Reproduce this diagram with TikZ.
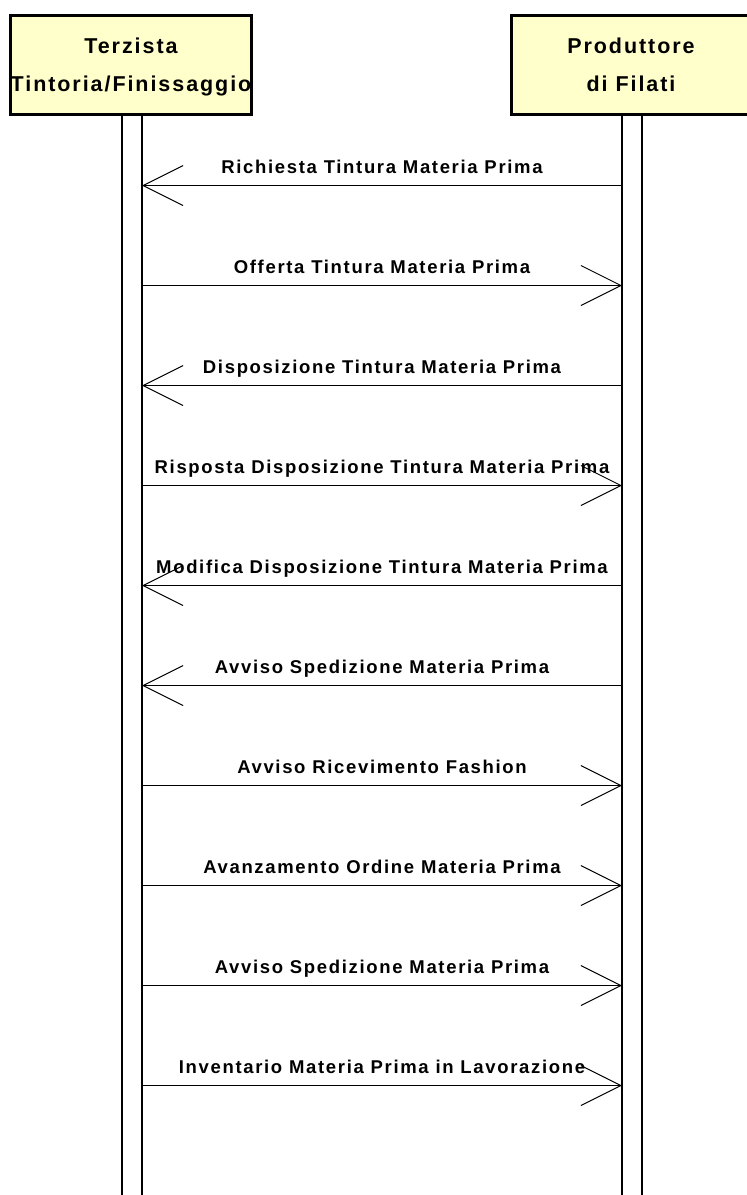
\documentclass[tikz,border=0pt]{standalone}
\usepackage{fontspec}
\setmainfont{Liberation Sans}[LetterSpace=9]
\usetikzlibrary{arrows.meta}
\definecolor{actorfill}{RGB}{255,255,204}

\begin{document}
\begin{tikzpicture}[line cap=butt,line join=miter,x=1pt,y=-1pt,
  >={Straight Barb[length=40pt,width=40pt,line width=1pt]},
  actor/.style={draw,line width=3pt,fill=actorfill,minimum width=239pt,minimum height=99pt,
    inner sep=0pt,text depth=0pt,align=center,font=\fontsize{21.5}{38}\selectfont\bfseries},
  life/.style={line width=1.5pt},
  msg/.style={line width=1.5pt,->},
  msgtext/.style={midway,anchor=base,yshift=12pt,inner sep=0pt,font=\fontsize{18.5}{22}\selectfont\bfseries}]
\useasboundingbox (0,0) rectangle (747,1195);
% lifelines
\coordinate (terzend) at (131,1200);
\coordinate (prodend) at (631,1200);
\draw [life] ([xshift=-9pt]131,114) -- ([xshift=-9pt]terzend);
\draw [life] ([xshift=11pt]131,114) -- ([xshift=11pt]terzend);
\draw [life] ([xshift=-9pt]631,114) -- ([xshift=-9pt]prodend);
\draw [life] ([xshift=11pt]631,114) -- ([xshift=11pt]prodend);
% actors
\node [actor] (terz) at (131,65) {Terzista\\Tintoria/Finissaggio};
\node [actor] (prod) at (631,65) {Produttore\\di Filati};
% messages
\coordinate (t1) at (142,185.5);  \coordinate (p1) at (622,185.5);
\coordinate (t2) at (142,285.5);  \coordinate (p2) at (622,285.5);
\coordinate (t3) at (142,385.5);  \coordinate (p3) at (622,385.5);
\coordinate (t4) at (142,485.5);  \coordinate (p4) at (622,485.5);
\coordinate (t5) at (142,585.5);  \coordinate (p5) at (622,585.5);
\coordinate (t6) at (142,685.5);  \coordinate (p6) at (622,685.5);
\coordinate (t7) at (142,785.5);  \coordinate (p7) at (622,785.5);
\coordinate (t8) at (142,885.5);  \coordinate (p8) at (622,885.5);
\coordinate (t9) at (142,985.5);  \coordinate (p9) at (622,985.5);
\coordinate (t10) at (142,1085.5); \coordinate (p10) at (622,1085.5);
\draw [msg] (p1) -- node [msgtext] (m1) {Richiesta Tintura Materia Prima} (t1);
\draw [msg] (t2) -- node [msgtext] (m2) {Offerta Tintura Materia Prima} (p2);
\draw [msg] (p3) -- node [msgtext] (m3) {Disposizione Tintura Materia Prima} (t3);
\draw [msg] (t4) -- node [msgtext] (m4) {Risposta Disposizione Tintura Materia Prima} (p4);
\draw [msg] (p5) -- node [msgtext] (m5) {Modifica Disposizione Tintura Materia Prima} (t5);
\draw [msg] (p6) -- node [msgtext] (m6) {Avviso Spedizione Materia Prima} (t6);
\draw [msg] (t7) -- node [msgtext] (m7) {Avviso Ricevimento Fashion} (p7);
\draw [msg] (t8) -- node [msgtext] (m8) {Avanzamento Ordine Materia Prima} (p8);
\draw [msg] (t9) -- node [msgtext] (m9) {Avviso Spedizione Materia Prima} (p9);
\draw [msg] (t10) -- node [msgtext] (m10) {Inventario Materia Prima in Lavorazione} (p10);
\end{tikzpicture}
\end{document}
